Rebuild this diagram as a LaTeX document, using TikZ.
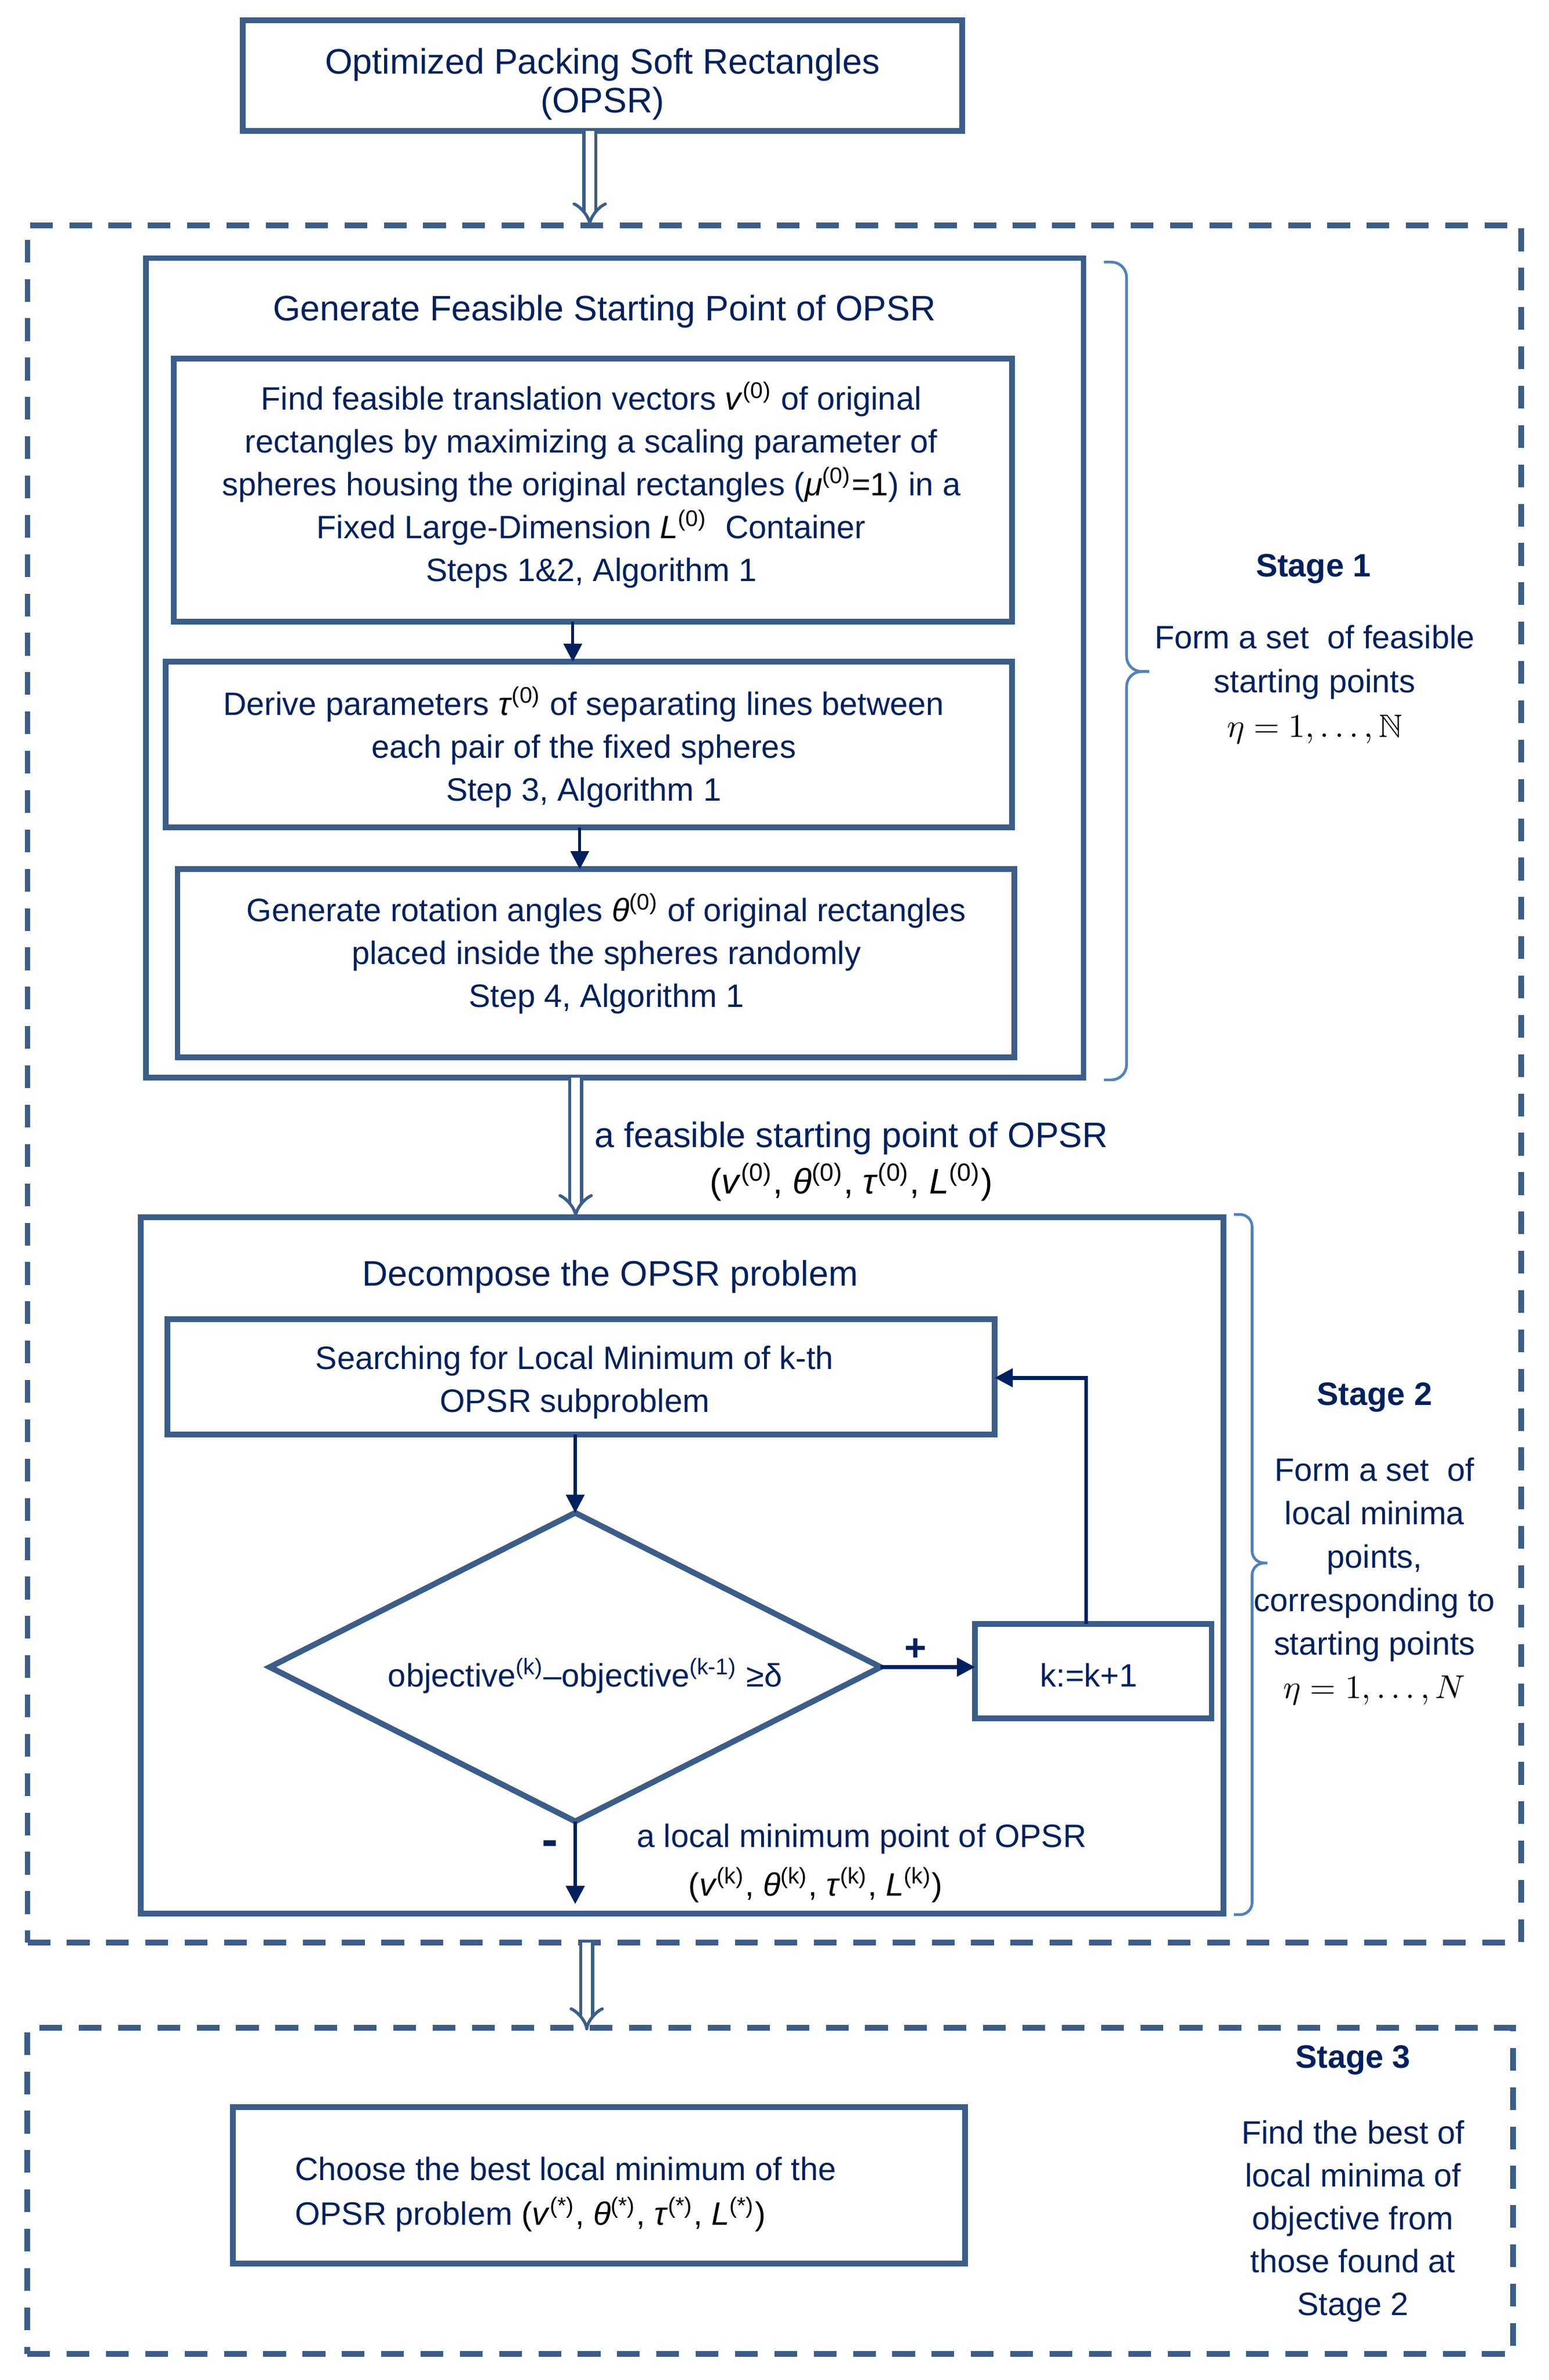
\documentclass[tikz,border=0pt]{standalone}
\usepackage{fontspec}
\setmainfont{Liberation Sans}
\usepackage{amssymb}
\usetikzlibrary{arrows.meta,shapes.geometric}
\definecolor{boxc}{RGB}{58,93,138}
\definecolor{navy}{RGB}{0,32,96}
\definecolor{bracec}{RGB}{79,129,189}
\newcommand{\ssym}[2]{\textcolor{black}{\textit{#1}\textsuperscript{(#2)}}}
\begin{document}
\begin{tikzpicture}[x=0.5pt,y=-0.5pt,
  txt/.style={text=navy, align=center, inner sep=0pt, font=\fontsize{10.7}{14.15}\selectfont},
  ttl/.style={txt, font=\fontsize{11.7}{13.5}\selectfont},
  box/.style={draw=boxc, line width=1.9pt, inner sep=0pt, outer sep=0pt},
  dashbox/.style={draw=boxc, line width=1.9pt, dash pattern=on 7.5pt off 5.5pt, inner sep=0pt, outer sep=0pt},
  arr/.style={draw=navy, line width=1pt, -{Triangle[length=6pt,width=6pt]}},
  arrb/.style={arr, line width=1.3pt},
  dbl/.style={draw=boxc, double=white, double distance=2.9pt, line width=1pt, -{Implies}},
  brc/.style={draw=bracec, line width=0.9pt, rounded corners=5pt},
  stg/.style={txt, font=\fontsize{10.7}{14.15}\selectfont\bfseries}
]
\useasboundingbox (0,0) rectangle (1024,1573.7);

% top box
\node[box, minimum width=238pt, minimum height=36.5pt] (top) at (398.4,49.9) {};
\node[ttl, font=\fontsize{11.7}{12.8}\selectfont] (toptxt) at (398.4,55.5)
  {Optimized Packing Soft Rectangles\\(OPSR)};

% dashed stage boxes
\node[dashbox, minimum width=493.8pt, minimum height=567.7pt] (dash1) at (512,716.8) {};
\node[dashbox, minimum width=491.3pt, minimum height=107.9pt] (dash2) at (509.4,1448.6) {};

% stage 1
\node[box, minimum width=310pt, minimum height=271pt] (s1) at (406.55,441.65) {};
\node[ttl] (s1title) at (399.6,206) {Generate Feasible Starting Point of OPSR};
\node[box, minimum width=277.2pt, minimum height=87pt] (A) at (392,324.1) {};
\node[txt] (Atxt) at (391,320.6)
  {Find feasible translation vectors \ssym{v}{0} of original\\
   rectangles by maximizing a scaling parameter of\\
   spheres housing the original rectangles (\ssym{μ}{0}\textcolor{black}{=1}) in a\\
   Fixed Large-Dimension \ssym{L}{0}\ \ Container\\
   Steps 1\&2, Algorithm 1};
\node[box, minimum width=279.8pt, minimum height=54.65pt] (B) at (389.4,492.25) {};
\node[txt] (Btxt) at (386,494)
  {Derive parameters \ssym{τ}{0} of separating lines between\\
   each pair of the fixed spheres\\
   Step 3, Algorithm 1};
\node[box, minimum width=276.7pt, minimum height=62.25pt] (C) at (394.1,637) {};
\node[txt] (Ctxt) at (401,630.5)
  {Generate rotation angles \ssym{θ}{0} of original rectangles\\
   placed inside the spheres randomly\\
   Step 4, Algorithm 1};

\coordinate (xab) at (378.8,0);
\coordinate (xbc) at (383.4,0);
\draw[arr] (A.south -| xab) -- (B.north -| xab);
\draw[arr] (B.south -| xbc) -- (C.north -| xbc);

% stage 1 brace and text
\coordinate (b1t) at (730,173.3);
\coordinate (b1m) at (760,444);
\coordinate (b1b) at (730,714);
\draw[brc] (b1t) -| (745,444) -- (b1m);
\draw[brc] (b1b) -| (745,444) -- (b1m);
\node[stg] (st1) at (868.6,376) {Stage 1};
\node[txt, font=\fontsize{10.7}{14.7}\selectfont] (st1txt) at (869.4,452.5)
  {Form a set \ of feasible\\ starting points\\ \textcolor{black}{$\eta = 1,\ldots,\mathbb{N}$}};

% arrow stage1 -> stage2
\coordinate (x12) at (380.7,0);
\node[ttl, font=\fontsize{11.7}{15.45}\selectfont] (fsp) at (563,768)
  {a feasible starting point of OPSR\\\textcolor{black}{(\textit{v}\textsuperscript{(0)}, \textit{θ}\textsuperscript{(0)}, \textit{τ}\textsuperscript{(0)}, \textit{L}\textsuperscript{(0)})}};

% stage 2
\node[box, minimum width=358pt, minimum height=230.2pt] (s2) at (451.2,1035) {};
\draw[dbl] (s1.south -| x12) -- (s2.north -| x12);
\node[ttl] (s2title) at (403.6,844) {Decompose the OPSR problem};
\node[box, minimum width=273.5pt, minimum height=38.25pt] (search) at (384.3,910.35) {};
\node[txt] (searchtxt) at (380,914)
  {Searching for Local Minimum of k-th\\OPSR subproblem};
\node[box, shape=diamond, aspect=2, minimum width=202pt, minimum height=102pt] (dia) at (380.4,1102.3) {};
\node[txt] (diatxt) at (387,1108)
  {objective\textsuperscript{(k)}–objective\textsuperscript{(k-1)} ≥δ};
\node[box, minimum width=78.2pt, minimum height=31.2pt] (kb) at (723,1105) {};
\node[txt] (kbtxt) at (720,1107.5) {k:=k+1};

\draw[arr] (search.south -| dia.north) -- (dia.north);
\draw[arrb] (dia.east) -- (dia.east -| kb.west);
\node[stg, font=\fontsize{12.5}{12}\selectfont\bfseries] (plus) at (605.4,1090.7) {+};
\coordinate (lp) at (718.3,911);
\draw[arrb] (kb.north -| lp) |- (search.east |- lp);

\coordinate (dend) at (383.4,1259);
\draw[arr, line width=1.2pt] (dia.south) -- (dia.south |- dend);
\node[stg, font=\fontsize{16}{16}\selectfont\bfseries] (minus) at (363.7,1222) {-};
\node[txt] (lmp1) at (569.8,1216) {a local minimum point of OPSR};
\node[txt, text=black] (lmp2) at (539.4,1246.5) {(\ssym{v}{k}, \ssym{θ}{k}, \ssym{τ}{k}, \ssym{L}{k})};

% stage 2 brace and text
\coordinate (b2t) at (816,803);
\coordinate (b2m) at (838,1033.5);
\coordinate (b2b) at (816,1266);
\draw[brc, rounded corners=4pt] (b2t) -| (828,1033.5) -- (b2m);
\draw[brc, rounded corners=4pt] (b2b) -| (828,1033.5) -- (b2m);
\node[stg] (st2) at (909,924) {Stage 2};
\node[txt, font=\fontsize{10.7}{14.35}\selectfont] (st2txt) at (909,1045.5)
  {Form a set \ of\\ local minima\\ points,\\ corresponding to\\ starting points\\ \textcolor{black}{$\eta = 1,\ldots,N$}};

% top arrows
\coordinate (x01) at (390,0);
\draw[dbl] (top.south -| x01) -- (dash1.north -| x01);
\coordinate (x23) at (388,1342.5);
\draw[dbl] (dash1.south -| x23) -- (x23);

% stage 3
\node[box, minimum width=242.1pt, minimum height=51.7pt] (final) at (396.1,1445.1) {};
\node[txt, align=left, anchor=west, font=\fontsize{10.7}{14.85}\selectfont] (finaltxt) at (194.6,1451)
  {Choose the best local minimum of the\\OPSR problem \textcolor{black}{(}\ssym{v}{*}\textcolor{black}{,} \ssym{θ}{*}\textcolor{black}{,} \ssym{τ}{*}\textcolor{black}{,} \ssym{L}{*}\textcolor{black}{)}};
\node[stg] (st3) at (894.7,1362) {Stage 3};
\node[txt, font=\fontsize{10.7}{14.15}\selectfont] (st3txt) at (894.7,1468.8)
  {Find the best of\\ local minima of\\ objective from\\ those found at\\ Stage 2};
\end{tikzpicture}
\end{document}
